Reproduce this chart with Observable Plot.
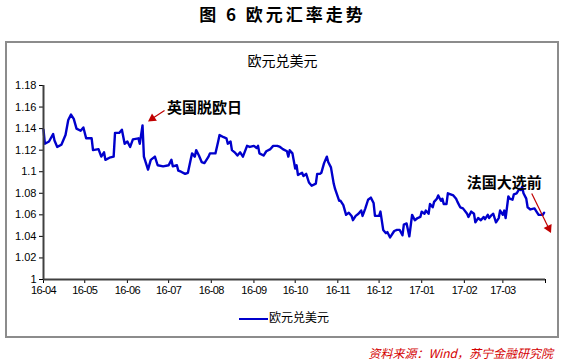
<!DOCTYPE html>
<html><head><meta charset="utf-8">
<script src="https://cdn.jsdelivr.net/npm/d3@7"></script>
<script src="https://cdn.jsdelivr.net/npm/@observablehq/plot@0.6"></script>
<style>
body{margin:0;background:#fff;}
#wrap{position:relative;width:565px;height:364px;overflow:hidden;font-family:"Noto Sans CJK SC",sans-serif;background:#fff;}
#title{position:absolute;top:3px;left:0;width:565px;text-align:center;font-size:17px;font-weight:bold;letter-spacing:3px;color:#000;line-height:22px;}
#box{position:absolute;left:5px;top:41px;width:550px;height:293px;border:2px solid #8c8c8c;}
#sub{position:absolute;top:50px;left:0;width:565px;text-align:center;font-size:14px;color:#000;line-height:20px;}
#chart{position:absolute;left:0;top:70px;}
#legend{position:absolute;top:309px;left:239px;font-size:12px;line-height:16px;color:#000;white-space:nowrap;}
#legend span.sw{display:inline-block;width:29px;height:2px;background:#0000cc;vertical-align:middle;margin-right:1px;}
#caption{position:absolute;top:345px;right:12px;color:#d40000;font-style:italic;font-size:12px;line-height:16px;white-space:nowrap;}
#chart svg [aria-label^="x-axis"] text{letter-spacing:-0.6px;}
</style>
</head><body>
<div id="wrap">
  <div id="title">图 6 欧元汇率走势</div>
  <div id="box"></div>
  <div id="sub">欧元兑美元</div>
  <div id="chart"></div>
  <div id="legend"><span class="sw"></span>欧元兑美元</div>
  <div id="caption">资料来源：Wind，苏宁金融研究院</div>
</div>
<script>
// ---- data (day offsets from 2016-04-01, EUR/USD) ----
const seriesName = "欧元兑美元";
const dayOffset = [0,1,4,7,8,10,13,16,18,20,22,24,27,29,31,35,36,40,42,44,45,48,51,52,55,57,59,61,63,65,69,70,72,73,76,78,81,83,
87,91,93,94,97,98,100,103,105,107,108,110,111,113,115,117,120,121,125,127,128,131,133,134,136,137,139,141,143,145,148,150,153,155,156,157,160,162,165,167,170,
172,174,177,178,179,181,183,184,185,188,189,191,193,195,198,199,201,202,204,206,207,209,211,212,215,216,218,220,222,224,225,227,229,231,232,
234,236,238,240,241,244,245,247,249,250,252,255,257,259,261,262,264,265,266,268,270,272,274,275,277,278,280,281,283,284,286,287,289,290,291,293,294,296,298,300,301,303,305,308,309,311,313,314,316,318,320,321,323,324,326,327,329,331,332,334,335,336,338,339,341,342,344,346,347,348,349,351,352,354,357,358,360,363,364];
const eurusd = [1.139,1.126,1.128,1.135,1.129,1.123,1.125,1.134,1.148,1.153,1.149,1.140,1.138,1.141,1.131,1.131,1.120,1.121,1.114,1.118,1.111,1.113,1.114,1.136,1.136,1.139,1.126,1.128,1.123,1.130,1.131,1.126,1.143,1.114,1.102,1.111,1.114,1.106,
1.105,1.106,1.111,1.105,1.106,1.101,1.100,1.098,1.099,1.111,1.117,1.114,1.120,1.115,1.109,1.108,1.114,1.117,1.117,1.128,1.134,1.132,1.131,1.126,1.128,1.120,1.118,1.115,1.118,1.114,1.124,1.123,1.124,1.122,1.124,1.117,1.115,1.119,1.121,1.124,1.124,
1.123,1.121,1.119,1.114,1.120,1.117,1.103,1.106,1.097,1.099,1.096,1.098,1.090,1.087,1.089,1.098,1.098,1.099,1.108,1.114,1.109,1.104,1.089,1.084,1.073,1.073,1.069,1.060,1.062,1.059,1.055,1.059,1.061,1.064,1.059,
1.066,1.074,1.076,1.071,1.059,1.059,1.063,1.046,1.043,1.044,1.039,1.045,1.046,1.046,1.041,1.051,1.052,1.046,1.040,1.060,1.055,1.057,1.058,1.063,1.061,1.064,1.061,1.070,1.067,1.072,1.075,1.078,1.073,1.075,1.070,1.070,1.080,1.079,1.078,1.075,1.072,1.067,1.066,1.061,1.058,1.063,1.061,1.053,1.057,1.055,1.058,1.056,1.060,1.057,1.060,1.061,1.053,1.057,1.064,1.060,1.064,1.057,1.077,1.075,1.074,1.079,1.080,1.084,1.083,1.086,1.080,1.075,1.067,1.065,1.066,1.064,1.060,1.060,1.062];
const yTicks = [1,1.02,1.04,1.06,1.08,1.1,1.12,1.14,1.16,1.18];
// annotations
const annText = ["英国脱欧日","法国大选前"];
const annDay = [117,335];
const annValue = [1.1587,1.0893];
const arrowFromDay = [88,355];
const arrowFromValue = [1.1568,1.0797];
const arrowToDay = [76,369];
const arrowToValue = [1.1467,1.0432];

// ---- chart ----
const start = new Date(Date.UTC(2016,3,1));
const end = new Date(Date.UTC(2017,3,1));
const W = 565, H = 240, mL = 43, mR = 20, mT = 15, mB = 31;
const blue = "#0000cc", red = "#c00000";
const data = dayOffset.map((d,i) => ({date: d3.utcDay.offset(start, d), v: eurusd[i]}));
const xCfg = {type: "utc", domain: [start, end]};
const yCfg = {type: "linear", domain: [1, 1.18]};
const xs = Plot.scale({x: {...xCfg, range: [mL, W - mR]}});
const ys = Plot.scale({y: {...yCfg, range: [H - mB, mT]}});

const headR = 3.3;
const headTip = Math.sqrt(4 * headR * headR * Math.PI / Math.sqrt(3)) * Math.sqrt(3) / 3; // centroid-to-tip distance
const arrows = arrowFromDay.map((d,i) => {
  const x1 = xs.apply(d3.utcDay.offset(start, d)), y1 = ys.apply(arrowFromValue[i]);
  const x2 = xs.apply(d3.utcDay.offset(start, arrowToDay[i])), y2 = ys.apply(arrowToValue[i]);
  const dx = x2 - x1, dy = y2 - y1, len = Math.hypot(dx, dy);
  const cx = x2 - dx / len * headTip, cy = y2 - dy / len * headTip;
  return {
    from: d3.utcDay.offset(start, d), fromV: arrowFromValue[i],
    head: xs.invert(cx), headV: ys.invert(cy),
    rot: Math.atan2(dx, -dy) * 180 / Math.PI
  };
});
const ann = annText.map((t,i) => ({t, date: d3.utcDay.offset(start, annDay[i]), v: annValue[i]}));

const monthTicks = d3.utcMonth.range(start, d3.utcDay.offset(end, 1));
const fmtM = d3.utcFormat("%y-%m");

const plot = Plot.plot({
  width: W, height: H,
  marginLeft: mL, marginRight: mR, marginTop: mT, marginBottom: mB,
  style: {fontFamily: "'Liberation Sans', Arial, sans-serif", fontSize: "11px", color: "#000", background: "transparent", overflow: "visible"},
  x: {...xCfg, ticks: monthTicks, tickFormat: d => (+d >= +end ? "" : fmtM(d)), tickSize: 4, tickPadding: 3, label: null},
  y: {...yCfg, ticks: yTicks, tickFormat: d => String(+d.toFixed(2)), tickSize: 4, tickPadding: 3, label: null},
  marks: [
    Plot.line(data, {x: "date", y: "v", stroke: blue, strokeWidth: 2.4, strokeLinejoin: "round", curve: "linear"}),
    Plot.ruleY([1], {stroke: "#404040", strokeWidth: 2}),
    Plot.ruleX([start], {stroke: "#404040", strokeWidth: 2}),
    Plot.link(arrows, {x1: "from", y1: "fromV", x2: "head", y2: "headV", stroke: red, strokeWidth: 1.2}),
    Plot.dot(arrows, {x: "head", y: "headV", symbol: "triangle", r: headR, fill: red, stroke: "none", rotate: "rot"}),
    Plot.text(ann, {x: "date", y: "v", text: "t", fontFamily: "'Noto Sans CJK SC', sans-serif", fontWeight: "bold", fontSize: 15, fill: "#000"})
  ]
});
document.getElementById("chart").appendChild(plot);
</script>
</body></html>
